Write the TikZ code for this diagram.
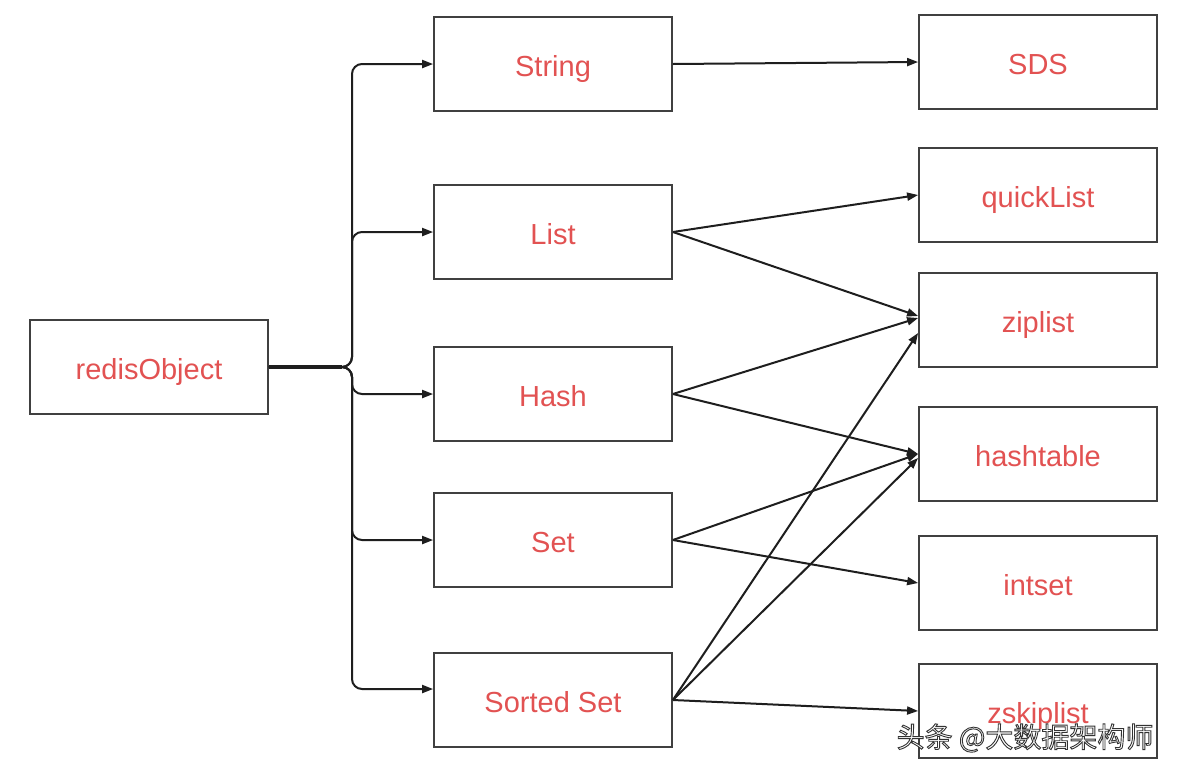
\documentclass[tikz,border=0pt]{standalone}
\usepackage{fontspec}
\setmainfont{Liberation Sans}
\newfontfamily\cjk{Noto Sans CJK SC}
\usetikzlibrary{arrows.meta}
\definecolor{lbl}{RGB}{226,82,82}
\definecolor{ln}{RGB}{30,30,30}
\tikzset{
  box/.style={draw=ln!85, line width=1.8pt, minimum width=238pt, minimum height=94pt,
    inner sep=0pt, text height=25pt, text depth=0pt, text=lbl, font=\fontsize{29}{33}\selectfont},
  conn/.style={draw=ln, line width=2pt, -{Triangle[length=11pt,width=8pt]}},
  trunk/.style={draw=ln, line width=2pt, rounded corners=10pt, -{Triangle[length=11pt,width=8pt]}},
}
\begin{document}
\begin{tikzpicture}[x=1pt,y=-1pt]
\useasboundingbox (0,0) rectangle (1196,774);
\fill[white] (0,0) rectangle (1196,774);
% left
\node[box] (ro) at (149,367) {redisObject};
% middle column
\node[box] (string) at (553,64) {String};
\node[box] (list) at (553,232) {List};
\node[box] (hash) at (553,394) {Hash};
\node[box] (set) at (553,540) {Set};
\node[box] (sorted) at (553,700) {Sorted Set};
% right column
\node[box] (sds) at (1038,62) {SDS};
\node[box] (quick) at (1038,195) {quickList};
\node[box] (zip) at (1038,320) {ziplist};
\node[box] (hasht) at (1038,454) {hashtable};
\node[box] (intset) at (1038,583) {intset};
\node[box] (zsk) at (1038,711) {zskiplist};
% trunk
\coordinate (tj) at (352,367);
\draw[ln, line width=3.5pt] (ro.east) -- (342,367);
\draw[trunk] (ro.east) -- (tj) |- (string.west);
\draw[trunk] (ro.east) -- (tj) |- (list.west);
\draw[trunk] (ro.east) -- (tj) |- (hash.west);
\draw[trunk] (ro.east) -- (tj) |- (set.west);
\draw[trunk] (ro.east) -- (tj) |- ([yshift=11pt]sorted.west);
% fan
\draw[conn] (string.east) -- (sds.west);
\draw[conn] (list.east) -- (quick.west);
\draw[conn] (list.east) -- ([yshift=4pt]zip.west);
\draw[conn] (hash.east) -- ([yshift=2pt]zip.west);
\draw[conn] (sorted.east) -- ([yshift=-13pt]zip.west);
\draw[conn] (hash.east) -- (hasht.west);
\draw[conn] (set.east) -- (hasht.west);
\draw[conn] (sorted.east) -- ([yshift=-4pt]hasht.west);
\draw[conn] (set.east) -- (intset.west);
\draw[conn] (sorted.east) -- (zsk.west);
% watermark
\node[inner sep=0pt, font=\cjk\fontsize{28}{32}\selectfont, text=white] (wm) at (1025,738)
  {\special{pdf:literal direct 0.2 0.2 0.2 RG 2 Tr 0.9 w}头条 @大数据架构师\special{pdf:literal direct 0 Tr}};
\end{tikzpicture}
\end{document}
